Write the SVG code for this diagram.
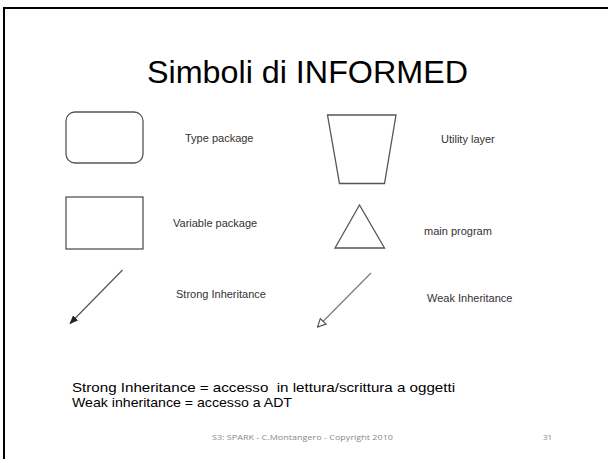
<svg xmlns="http://www.w3.org/2000/svg" width="608" height="459" viewBox="0 0 608 459">
<defs>
<style>
.lbl{font-family:"Liberation Sans",Arial,sans-serif;font-size:11px;fill:#333}
.body{font-family:"Liberation Sans",Arial,sans-serif;font-size:13px;fill:#000}
.foot{font-family:"Open Sans","Liberation Sans",sans-serif;font-size:8px;fill:#8a8a8a}
.shape{fill:#fff;stroke:#555;stroke-width:1.3}
</style>
<marker id="solidHead" viewBox="0 0 10 10" refX="9" refY="5" markerWidth="9" markerHeight="9" markerUnits="userSpaceOnUse" orient="auto">
<path d="M0,1 L10,5 L0,9 Z" fill="#222"/>
</marker>
<marker id="hollowHead" viewBox="0 0 10 10" refX="9" refY="5" markerWidth="10" markerHeight="10" markerUnits="userSpaceOnUse" orient="auto">
<path d="M1,1 L9,5 L1,9 Z" fill="#fff" stroke="#555" stroke-width="1.2"/>
</marker>
</defs>
<rect x="0" y="0" width="608" height="459" fill="#fff"/>
<rect x="4" y="8" width="620" height="470" fill="none" stroke="#000" stroke-width="2"/>
<text x="307.5" y="83" font-family="Liberation Sans,Arial,sans-serif" font-size="31" fill="#000" text-anchor="middle" textLength="321" lengthAdjust="spacingAndGlyphs">Simboli di INFORMED</text>

<g id="type-package">
<rect class="shape" x="66" y="112" width="77" height="51" rx="9"/>
<text class="lbl" x="185" y="142">Type package</text>
</g>
<g id="utility-layer">
<polygon class="shape" points="327.5,115 396,115 384.5,183.5 339.5,183.5"/>
<text class="lbl" x="441" y="143">Utility layer</text>
</g>
<g id="variable-package">
<rect class="shape" x="66" y="197" width="77" height="52" stroke="#222"/>
<text class="lbl" x="173" y="227">Variable package</text>
</g>
<g id="main-program">
<polygon class="shape" points="359.5,205 335,248 384.5,248" stroke="#333"/>
<text class="lbl" x="424" y="235">main program</text>
</g>
<g id="connectors">
<line x1="122.5" y1="270" x2="70" y2="323.5" stroke="#555" stroke-width="1.2" marker-end="url(#solidHead)"/>
<line x1="371" y1="273" x2="317.5" y2="327" stroke="#777" stroke-width="1.1" marker-end="url(#hollowHead)"/>
</g>
<g id="strong-label"><text class="lbl" x="176" y="298">Strong Inheritance</text></g>
<g id="weak-label"><text class="lbl" x="427" y="302">Weak Inheritance</text></g>

<text class="body" x="72" y="392" textLength="383" lengthAdjust="spacingAndGlyphs" xml:space="preserve">Strong Inheritance = accesso  in lettura/scrittura a oggetti</text>
<text class="body" x="72" y="406.5" textLength="220" lengthAdjust="spacingAndGlyphs">Weak inheritance = accesso a ADT</text>
<text class="foot" x="212" y="440" textLength="181" lengthAdjust="spacingAndGlyphs">S3: SPARK - C.Montangero - Copyright 2010</text>
<text class="foot" x="543" y="440">31</text>
</svg>
